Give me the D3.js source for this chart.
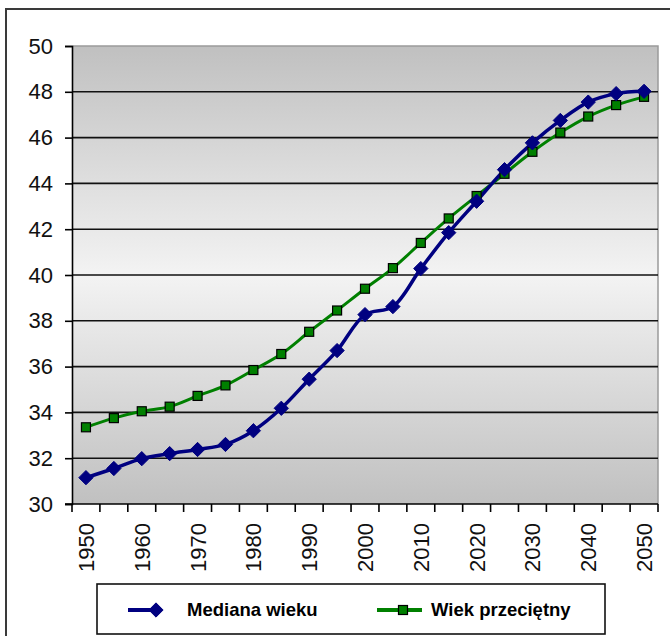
<!DOCTYPE html>
<html>
<head>
<meta charset="utf-8">
<script src="https://cdn.jsdelivr.net/npm/d3@7/dist/d3.min.js"></script>
<style>
  html, body { margin: 0; padding: 0; background: #fff; }
  svg { display: block; font-family: "Liberation Sans", Arial, sans-serif; }
</style>
</head>
<body>
<svg id="chart" width="670" height="636"></svg>
<script>
// Years (every 5 years), 1950–2050
const years = [1950, 1955, 1960, 1965, 1970, 1975, 1980, 1985, 1990, 1995, 2000,
               2005, 2010, 2015, 2020, 2025, 2030, 2035, 2040, 2045, 2050];
// Median age
const medianAge = [31.15, 31.55, 31.98, 32.2, 32.38, 32.6, 33.2, 34.18, 35.45, 36.7, 38.27,
                   38.62, 40.28, 41.85, 43.22, 44.6, 45.77, 46.75, 47.55, 47.92, 48.02];
// Average age
const meanAge = [33.35, 33.75, 34.05, 34.25, 34.72, 35.18, 35.85, 36.55, 37.52, 38.45, 39.4,
                 40.3, 41.4, 42.47, 43.45, 44.42, 45.38, 46.22, 46.92, 47.42, 47.78];
const yTicks = [30, 32, 34, 36, 38, 40, 42, 44, 46, 48, 50];
const xLabelYears = [1950, 1960, 1970, 1980, 1990, 2000, 2010, 2020, 2030, 2040, 2050];
const seriesNames = ["Mediana wieku", "Wiek przeciętny"];

const svg = d3.select("#chart");
const plot = { left: 72, top: 46, right: 658, bottom: 504 };

// Outer frame
svg.append("rect")
  .attr("x", 6).attr("y", 9).attr("width", 680).attr("height", 640)
  .attr("fill", "#fff").attr("stroke", "#3a3a3a").attr("stroke-width", 2);

const x = d3.scaleBand().domain(years).range([plot.left, plot.right]).padding(0);
const y = d3.scaleLinear().domain([30, 50]).range([plot.bottom, plot.top]);
const cx = d => x(d) + x.bandwidth() / 2;

// Plot background gradient: grey at the edges, near white in the middle
const defs = svg.append("defs");
const grad = defs.append("linearGradient").attr("id", "bg")
  .attr("x1", 0).attr("y1", 0).attr("x2", 0).attr("y2", 1);
grad.append("stop").attr("offset", "0%").attr("stop-color", "#c0c0c0");
grad.append("stop").attr("offset", "50%").attr("stop-color", "#f3f3f3");
grad.append("stop").attr("offset", "100%").attr("stop-color", "#c0c0c0");

svg.append("rect")
  .attr("x", plot.left).attr("y", plot.top)
  .attr("width", plot.right - plot.left).attr("height", plot.bottom - plot.top)
  .attr("fill", "url(#bg)");

// Top and right border of the plot area
svg.append("path")
  .attr("d", `M${plot.left},${plot.top}H${plot.right}V${plot.bottom}`)
  .attr("fill", "none").attr("stroke", "#9a9a9a").attr("stroke-width", 1.5);

// Horizontal gridlines
svg.append("g").selectAll("line")
  .data(yTicks.filter(t => t > 30 && t < 50))
  .join("line")
  .attr("x1", plot.left).attr("x2", plot.right)
  .attr("y1", d => y(d)).attr("y2", d => y(d))
  .attr("stroke", "#111").attr("stroke-width", 1.6);

// Y axis
const yAxis = svg.append("g")
  .attr("transform", `translate(${plot.left},0)`)
  .call(d3.axisLeft(y).tickValues(yTicks).tickSize(7).tickPadding(12).tickFormat(d3.format("d")));
yAxis.select(".domain").attr("stroke", "#000").attr("stroke-width", 1.6);
yAxis.selectAll(".tick line").attr("stroke", "#000").attr("stroke-width", 1.6);
yAxis.selectAll("text").attr("font-size", 22).attr("fill", "#111")
  .attr("font-family", "'Liberation Sans', Arial, sans-serif");

// X axis: ticks on band boundaries, labels every 10 years
const xAxisG = svg.append("g").attr("transform", `translate(0,${plot.bottom})`);
xAxisG.append("line")
  .attr("x1", plot.left - 7).attr("x2", plot.right)
  .attr("y1", 0).attr("y2", 0)
  .attr("stroke", "#000").attr("stroke-width", 1.6);
const boundaries = years.map(d => x(d)).concat([x(years[years.length - 1]) + x.bandwidth()]);
xAxisG.selectAll("line.tk").data(boundaries).join("line").attr("class", "tk")
  .attr("x1", d => d).attr("x2", d => d).attr("y1", 0).attr("y2", 8)
  .attr("stroke", "#000").attr("stroke-width", 1.6);
xAxisG.selectAll("text").data(xLabelYears).join("text")
  .attr("transform", d => `translate(${cx(d) + 8},19) rotate(-90)`)
  .attr("text-anchor", "end")
  .attr("font-size", 22).attr("fill", "#111")
  .text(d => d);

// Series lines
const lineGen = d3.line().curve(d3.curveCatmullRom.alpha(0.5));
const medPts = years.map((yr, i) => [cx(yr), y(medianAge[i])]);
const meanPts = years.map((yr, i) => [cx(yr), y(meanAge[i])]);

svg.append("path").attr("d", lineGen(meanPts))
  .attr("fill", "none").attr("stroke", "#008000").attr("stroke-width", 3);
svg.append("path").attr("d", lineGen(medPts))
  .attr("fill", "none").attr("stroke", "#000080").attr("stroke-width", 3.5);

const diamond = d3.symbol().type(d3.symbolDiamond2).size(130);
const square = 9;

// Average age markers (green squares)
svg.append("g").selectAll("rect").data(meanPts).join("rect")
  .attr("x", d => d[0] - square / 2).attr("y", d => d[1] - square / 2)
  .attr("width", square).attr("height", square)
  .attr("fill", "#008000").attr("stroke", "#000").attr("stroke-width", 1.2);

// Median age markers (navy diamonds)
svg.append("g").selectAll("path").data(medPts).join("path")
  .attr("transform", d => `translate(${d[0]},${d[1]})`)
  .attr("d", diamond)
  .attr("fill", "#000080").attr("stroke", "#000080").attr("stroke-width", 1);

// Legend
const lg = svg.append("g");
lg.append("rect").attr("x", 97).attr("y", 584).attr("width", 508).attr("height", 50)
  .attr("fill", "#fff").attr("stroke", "#111").attr("stroke-width", 1.6);

lg.append("line").attr("x1", 128).attr("x2", 160).attr("y1", 610).attr("y2", 610)
  .attr("stroke", "#000080").attr("stroke-width", 4);
lg.append("path").attr("transform", "translate(156,610)").attr("d", diamond)
  .attr("fill", "#000080").attr("stroke", "#000080");
lg.append("text").attr("x", 187).attr("y", 616)
  .attr("font-size", 18.5).attr("font-weight", "bold").attr("fill", "#000")
  .text(seriesNames[0]);

lg.append("line").attr("x1", 377).attr("x2", 422).attr("y1", 610).attr("y2", 610)
  .attr("stroke", "#008000").attr("stroke-width", 4);
lg.append("rect").attr("x", 403 - square / 2).attr("y", 610 - square / 2)
  .attr("width", square).attr("height", square)
  .attr("fill", "#008000").attr("stroke", "#000").attr("stroke-width", 1.2);
lg.append("text").attr("x", 431).attr("y", 616)
  .attr("font-size", 18.5).attr("font-weight", "bold").attr("fill", "#000")
  .text(seriesNames[1]);
</script>
</body>
</html>
